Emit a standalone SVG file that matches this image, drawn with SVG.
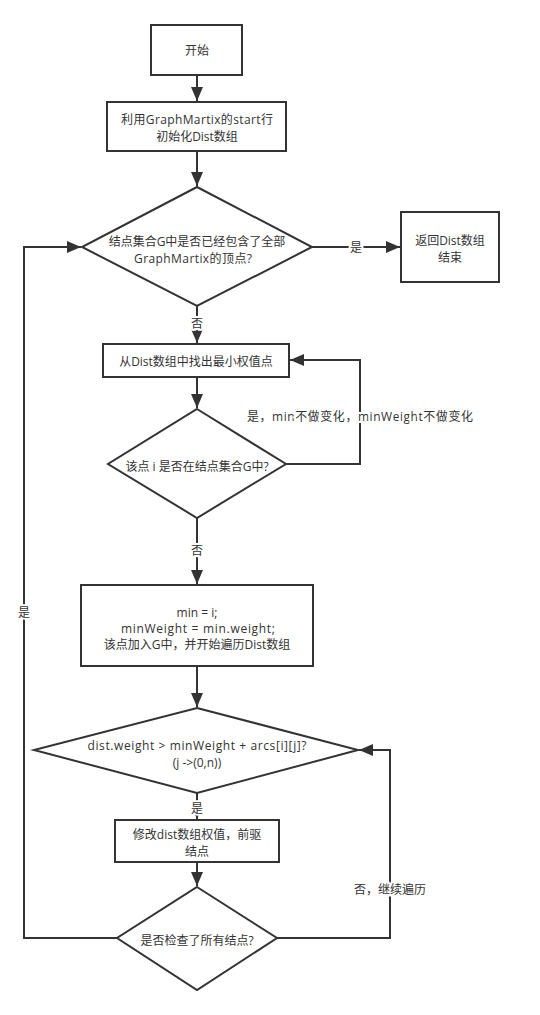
<svg xmlns="http://www.w3.org/2000/svg" width="540" height="1015" viewBox="0 0 540 1015">
<style>
.n{fill:#fff;stroke:#333;stroke-width:2}
.e{fill:none;stroke:#333;stroke-width:2}
text{font-family:"Open Sans","Noto Sans CJK SC",sans-serif;font-size:12px;fill:#333;text-anchor:middle;dominant-baseline:central}
.lb{paint-order:stroke;stroke:#fff;stroke-width:4px}
</style>
<defs>
<marker id="a" markerUnits="userSpaceOnUse" markerWidth="14" markerHeight="12" refX="14" refY="6" orient="auto">
<path d="M0,0 L14,6 L0,12 Z" fill="#333"/>
</marker>
</defs>
<rect width="540" height="1015" fill="#fff"/>
<g id="edges">
<path class="e" d="M197,75 V101" marker-end="url(#a)"/>
<path class="e" d="M197,151 V186" marker-end="url(#a)"/>
<path class="e" d="M312,247 H400" marker-end="url(#a)"/>
<path class="e" d="M197,306 V343" marker-end="url(#a)"/>
<path class="e" d="M197,377 V408" marker-end="url(#a)"/>
<path class="e" d="M286,464 H360 V360 H290" marker-end="url(#a)"/>
<path class="e" d="M197,518 V584" marker-end="url(#a)"/>
<path class="e" d="M197,666 V707" marker-end="url(#a)"/>
<path class="e" d="M197,793 V819" marker-end="url(#a)"/>
<path class="e" d="M197,862 V886" marker-end="url(#a)"/>
<path class="e" d="M117,938 H24 V247 H81" marker-end="url(#a)"/>
<path class="e" d="M277,938 H390 V750 H359" marker-end="url(#a)"/>
<text class="lb" x="356" y="247">是</text>
<text class="lb" x="197" y="323">否</text>
<text class="lb" x="360" y="416" textLength="226" lengthAdjust="spacing">是，min不做变化，minWeight不做变化</text>
<text class="lb" x="197" y="550">否</text>
<text class="lb" x="24" y="612">是</text>
<text class="lb" x="197" y="808">是</text>
<text class="lb" x="390" y="889">否，继续遍历</text>
</g>
<g id="start">
<rect class="n" x="151" y="25" width="91" height="50"/>
<text x="197" y="50">开始</text>
</g>
<g id="init">
<rect class="n" x="107" y="102" width="179" height="49"/>
<text x="197" y="119" textLength="152" lengthAdjust="spacing">利用GraphMartix的start行</text>
<text x="197" y="136">初始化Dist数组</text>
</g>
<g id="check-all">
<path class="n" d="M197,187 L312,247 L197,306 L82,247 Z"/>
<text x="197" y="241">结点集合G中是否已经包含了全部</text>
<text x="193" y="258" textLength="118" lengthAdjust="spacing">GraphMartix的顶点?</text>
</g>
<g id="end">
<rect class="n" x="401" y="212" width="98" height="70"/>
<text x="450" y="240">返回Dist数组</text>
<text x="450" y="257">结束</text>
</g>
<g id="find-min">
<rect class="n" x="103" y="344" width="186" height="33"/>
<text x="196" y="361">从Dist数组中找出最小权值点</text>
</g>
<g id="in-g">
<path class="n" d="M197,409 L286,464 L197,518 L108,464 Z"/>
<text x="197" y="466">该点 i 是否在结点集合G中?</text>
</g>
<g id="assign">
<rect class="n" x="81" y="585" width="232" height="81"/>
<text x="197" y="612">min = i;</text>
<text x="198" y="628" textLength="154" lengthAdjust="spacing">minWeight = min.weight;</text>
<text x="197" y="644">该点加入G中，并开始遍历Dist数组</text>
</g>
<g id="compare">
<path class="n" d="M197,708 L358,750 L197,793 L34,750 Z"/>
<text x="197" y="745" textLength="219" lengthAdjust="spacing">dist.weight &gt; minWeight + arcs[i][j]?</text>
<text x="197" y="762">(j -&gt;(0,n))</text>
</g>
<g id="modify">
<rect class="n" x="115" y="820" width="164" height="42"/>
<text x="197" y="834">修改dist数组权值，前驱</text>
<text x="197" y="851">结点</text>
</g>
<g id="checked-all">
<path class="n" d="M197,887 L277,938 L197,990 L117,938 Z"/>
<text x="197" y="940">是否检查了所有结点?</text>
</g>
</svg>
